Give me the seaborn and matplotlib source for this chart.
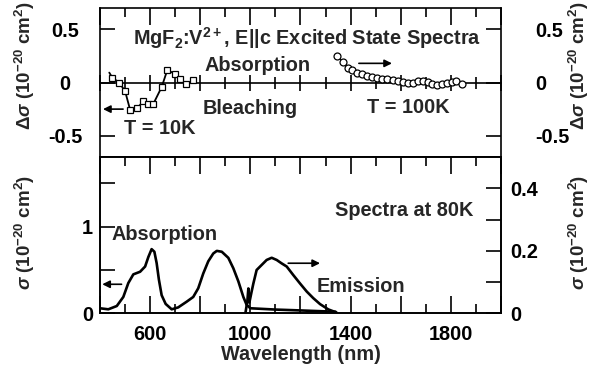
import matplotlib
matplotlib.use("Agg")
import matplotlib.pyplot as plt
import seaborn as sns


# ==========================================
# DATA
# ==========================================

# excited state spectrum, T = 10K (squares, left scale)
esa10_nm = [437, 449, 476, 500, 520, 549, 573, 593, 613, 646, 669, 699, 719, 743, 772]
esa10_ds = [0.093, 0.046, 0.0, -0.08, -0.255, -0.24, -0.176, -0.20, -0.20,
            -0.043, 0.12, 0.078, 0.03, -0.017, 0.024]

# excited state spectrum, T = 100K (circles)
esa100_nm = [1346, 1371, 1391, 1404, 1424, 1444, 1464, 1484, 1504, 1524, 1544,
             1570, 1590, 1610, 1630, 1650, 1670, 1690, 1710, 1723, 1743, 1763,
             1783, 1803, 1820, 1843]
esa100_ds = [0.25, 0.19, 0.14, 0.116, 0.093, 0.078, 0.062, 0.055, 0.045, 0.036,
             0.030, 0.021, 0.014, 0.005, -0.002, -0.002, 0.014, 0.014, 0.008,
             -0.011, -0.027, -0.017, -0.008, 0.008, 0.014, -0.017]

# ground state absorption at 80K (left scale)
abs_nm = [400, 433, 467, 493, 513, 533, 560, 580, 593, 606, 617, 626, 635, 646,
          662, 686, 712, 746, 772, 792, 812, 832, 852, 866, 886, 912, 932, 952,
          972, 985, 1000, 1100, 1200, 1340]
abs_s = [0.06, 0.048, 0.086, 0.19, 0.35, 0.45, 0.48, 0.54, 0.65, 0.74, 0.71,
         0.58, 0.39, 0.21, 0.11, 0.048, 0.07, 0.136, 0.19, 0.29, 0.46, 0.60,
         0.69, 0.72, 0.71, 0.64, 0.52, 0.37, 0.19, 0.10, 0.06, 0.045, 0.035, 0.02]

# emission at 80K (right scale)
emi_nm = [980, 988, 992, 996, 1005, 1012, 1025, 1045, 1065, 1085, 1105, 1125,
          1145, 1171, 1198, 1225, 1251, 1278, 1311, 1344]
emi_s = [0.0, 0.04, 0.08, 0.035, 0.07, 0.096, 0.139, 0.155, 0.171, 0.178,
         0.171, 0.16, 0.15, 0.123, 0.096, 0.07, 0.049, 0.03, 0.013, 0.003]

x_major = list(range(400, 2001, 200))
x_minor = list(range(500, 2000, 200))
x_labels = [str(v) if v in (600, 1000, 1400, 1800) else "" for v in x_major]


# ==========================================
# STYLE
# ==========================================

sns.set_theme(style="ticks")
plt.rcParams["font.family"] = ["Liberation Sans", "DejaVu Sans"]
plt.rcParams["font.weight"] = "bold"
plt.rcParams["axes.unicode_minus"] = False
plt.rcParams["mathtext.fontset"] = "custom"
plt.rcParams["mathtext.rm"] = "Liberation Sans:bold"
plt.rcParams["mathtext.it"] = "Liberation Sans:italic:bold"
plt.rcParams["mathtext.bf"] = "Liberation Sans:bold"
plt.rcParams["mathtext.default"] = "regular"
plt.rcParams["xtick.color"] = "black"
plt.rcParams["ytick.color"] = "black"
plt.rcParams["axes.axisbelow"] = False

FS = 14.3
LW_AX = 1.2


def style_ticks(axis, major_len, minor_len):
    # force tick marks black, at the wanted length, drawn above everything
    for ticks, ln_len in ((axis.get_major_ticks(), major_len),
                          (axis.get_minor_ticks(), minor_len)):
        for t in ticks:
            for ln in (t.tick1line, t.tick2line):
                ln.set_markersize(ln_len)
                ln.set_markeredgewidth(LW_AX)
                ln.set_markeredgecolor("black")
                ln.set_color("black")
                ln.set_zorder(5)


fig = plt.figure(figsize=(5.91, 3.81), dpi=100)
ax_top = fig.add_axes([0.1692, 0.5879, 0.6785, 0.3911])
ax_bot = fig.add_axes([0.1692, 0.1772, 0.6785, 0.4108])


# ==========================================
# TOP PANEL : EXCITED STATE SPECTRA
# ==========================================

ax_top.set_xlim(400, 2000)
ax_top.set_ylim(-0.7, 0.7)

sns.lineplot(x=esa10_nm, y=esa10_ds, ax=ax_top, color="black", lw=1.3,
             marker="s", markersize=5, markerfacecolor="white",
             markeredgecolor="black", markeredgewidth=0.9,
             markevery=list(range(1, len(esa10_nm))), sort=False,
             errorbar=None)
sns.lineplot(x=esa100_nm, y=esa100_ds, ax=ax_top, color="black", lw=1.0,
             marker="o", markersize=5, markerfacecolor="white",
             markeredgecolor="black", markeredgewidth=0.9, sort=False,
             errorbar=None)

ax_top.set_xticks(x_major)
ax_top.set_xticks(x_minor, minor=True)
ax_top.tick_params(axis="x", which="both", direction="in", top=True,
                   bottom=False, labelbottom=False, labeltop=False,
                   width=LW_AX, color="black")
ax_top.tick_params(axis="x", which="major", length=12)
ax_top.tick_params(axis="x", which="minor", length=6.5)

ax_top.set_yticks([-0.5, 0, 0.5], ["-0.5", "0", "0.5"])
ax_top.tick_params(axis="y", direction="in", left=True, right=True,
                   labelleft=True, labelright=True, length=11, width=LW_AX,
                   labelsize=FS, color="black")
for t in ax_top.yaxis.get_major_ticks():
    t.set_pad(25)
    t.label1.set_horizontalalignment("center")
    t.label2.set_horizontalalignment("left")

# zero line with crossing ticks
zero_ax = ax_top.secondary_xaxis(0.5)
zero_ax.set_xticks(x_major)
zero_ax.set_xticks(x_minor, minor=True)
zero_ax.tick_params(axis="x", which="both", direction="inout",
                    labelbottom=False, labeltop=False, width=LW_AX,
                    color="black")
zero_ax.tick_params(axis="x", which="major", length=12)
zero_ax.tick_params(axis="x", which="minor", length=8)
for s in zero_ax.spines.values():
    s.set_linewidth(LW_AX)
    s.set_color("black")

for s in ax_top.spines.values():
    s.set_linewidth(LW_AX)
    s.set_color("black")
ax_top.set_xlabel("")
ax_top.set_ylabel("")

ax_top.text(1226, 0.414, "MgF$_2$:V$^{2+}$, E||c Excited State Spectra",
            ha="center", va="center", fontsize=FS, fontweight="bold")
ax_top.text(1030, 0.157, "Absorption", ha="center", va="center", fontsize=FS,
            fontweight="bold")
ax_top.text(999, -0.243, "Bleaching", ha="center", va="center", fontsize=FS,
            fontweight="bold")
ax_top.text(639, -0.433, "T = 10K", ha="center", va="center", fontsize=FS,
            fontweight="bold")
ax_top.text(1629, -0.233, "T = 100K", ha="center", va="center", fontsize=FS,
            fontweight="bold")

arrow = dict(arrowstyle="-|>", color="black", lw=1.2, mutation_scale=11,
             shrinkA=0, shrinkB=0)
ax_top.annotate("", xy=(412, -0.25), xytext=(492, -0.25), arrowprops=arrow)
ax_top.annotate("", xy=(1565, 0.18), xytext=(1433, 0.18), arrowprops=arrow)


# ==========================================
# BOTTOM PANEL : ABSORPTION / EMISSION 80K
# ==========================================

ax_bot.set_xlim(400, 2000)
ax_bot.set_ylim(0, 1.8)
sns.lineplot(x=abs_nm, y=abs_s, ax=ax_bot, color="black", lw=1.9, sort=False,
             errorbar=None)

ax_emi = ax_bot.twinx()
ax_emi.set_ylim(0, 0.5)
sns.lineplot(x=emi_nm, y=emi_s, ax=ax_emi, color="black", lw=1.9, sort=False,
             errorbar=None)

ax_bot.set_xticks(x_major, x_labels)
ax_bot.set_xticks(x_minor, minor=True)
ax_bot.tick_params(axis="x", which="both", direction="in", top=True,
                   bottom=True, width=LW_AX, labelsize=FS, pad=8,
                   color="black")
ax_bot.tick_params(axis="x", which="major", length=12)
ax_bot.tick_params(axis="x", which="minor", length=6.5)

ax_bot.set_yticks([0, 0.5, 1, 1.5], ["0", "", "1", ""])
ax_bot.tick_params(axis="y", direction="in", left=True, right=False,
                   length=11, width=LW_AX, labelsize=FS, pad=5,
                   color="black")

ax_emi.set_yticks([0, 0.1, 0.2, 0.3, 0.4], ["0", "", "0.2", "", "0.4"])
ax_emi.tick_params(axis="y", direction="in", right=True, length=11,
                   width=LW_AX, labelsize=FS, pad=6.5, color="black")

for a in (ax_bot, ax_emi):
    for s in a.spines.values():
        s.set_linewidth(LW_AX)
        s.set_color("black")
    a.set_xlabel("")
    a.set_ylabel("")

ax_bot.text(1613, 1.18, "Spectra at 80K", ha="center", va="center",
            fontsize=FS, fontweight="bold")
ax_bot.text(659, 0.904, "Absorption", ha="center", va="center", fontsize=FS,
            fontweight="bold")
ax_bot.text(1441, 0.305, "Emission", ha="center", va="center", fontsize=FS,
            fontweight="bold")
ax_bot.annotate("", xy=(409, 0.336), xytext=(486, 0.336), arrowprops=arrow)
ax_bot.annotate("", xy=(1278, 0.578), xytext=(1151, 0.578), arrowprops=arrow)

# tick marks
style_ticks(ax_top.xaxis, 12, 6.5)
style_ticks(ax_top.yaxis, 11, 0)
style_ticks(zero_ax.xaxis, 12, 8)
style_ticks(ax_bot.xaxis, 12, 6.5)
style_ticks(ax_bot.yaxis, 11, 0)
style_ticks(ax_emi.yaxis, 11, 0)


# ==========================================
# AXIS TITLES
# ==========================================

lab_top = "Δ$\\mathit{σ}$ (10$^{-20}$ cm$^2$)"
lab_bot = "$\\mathit{σ}$ (10$^{-20}$ cm$^2$)"
for xp in (25, 579):
    fig.text(xp / 591, 1 - 66 / 381, lab_top, rotation=90, ha="center",
             va="center", fontsize=13.5, fontweight="bold")
    fig.text(xp / 591, 1 - 232 / 381, lab_bot, rotation=90, ha="center",
             va="center", fontsize=13.5, fontweight="bold")
fig.text(301 / 591, 1 - 355 / 381, "Wavelength (nm)", ha="center",
         va="center", fontsize=FS, fontweight="bold")

plt.savefig("out.png", dpi=100)
